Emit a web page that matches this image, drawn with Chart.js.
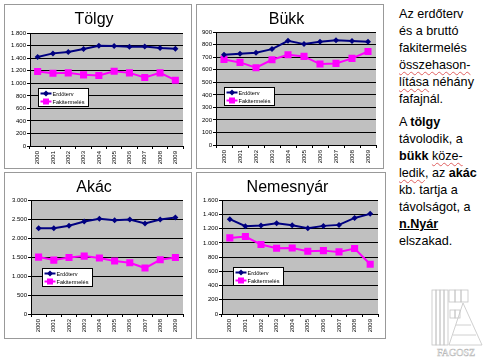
<!DOCTYPE html>
<html>
<head>
<meta charset="utf-8">
<script src="https://cdn.jsdelivr.net/npm/chart.js@4.4.0/dist/chart.umd.min.js"></script>
<style>
  body { margin: 0; width: 490px; height: 363px; background: #fff; position: relative; overflow: hidden;
         font-family: 'Liberation Sans', Arial, sans-serif; }
  .frame { position: absolute; border: 1px solid #999; background: #fff; }
  .frame canvas { display: block; }
  #note { position: absolute; left: 399px; top: 6px; font-size: 12.6px; line-height: 17px; color: #000; white-space: nowrap; }
  #note p { margin: 0; }
  #note p + p { margin-top: 6px; }
  .sp { text-decoration: underline wavy #e06060; text-decoration-thickness: 1px; text-underline-offset: 2px; }
  #logo { position: absolute; left: 425px; top: 285px; }
</style>
</head>
<body>
<div class="frame" style="left:4px;top:4px;"><canvas id="tolgyChart" width="186" height="163"></canvas></div>
<div class="frame" style="left:196px;top:4px;"><canvas id="bukkChart" width="186" height="163"></canvas></div>
<div class="frame" style="left:4px;top:172px;"><canvas id="akacChart" width="186" height="165"></canvas></div>
<div class="frame" style="left:196px;top:172px;"><canvas id="nyarChart" width="188" height="165"></canvas></div>

<div id="note">
  <p>Az erdőterv<br>és a bruttó<br>fakitermelés<br><span class="sp">összehason-</span><br><span class="sp">lítása</span> néhány<br>fafajnál.</p>
  <p>A <b>tölgy</b><br>távolodik, a<br><b>bükk</b> <span class="sp">köze-</span><br><span class="sp">ledik</span>, az <b>akác</b><br>kb. tartja a<br>távolságot, a<br><b><u>n.Nyár</u></b><br>elszakad.</p>
</div>

<svg id="logo" width="62" height="76" viewBox="0 0 62 76">
  <g fill="none" stroke="#c4c4c4" stroke-width="0.8">
    <rect x="7" y="5" width="4" height="55"/>
    <rect x="11" y="5" width="4" height="55"/>
    <rect x="15" y="5" width="4" height="55"/>
    <rect x="19" y="5" width="4" height="55"/>
    <rect x="24" y="5" width="6" height="12"/>
    <rect x="30" y="5" width="6" height="12"/>
    <rect x="36" y="5" width="7" height="12"/>
    <rect x="25" y="25" width="5" height="8"/>
    <rect x="30" y="25" width="5" height="8"/>
    <path d="M24 60 L38 18 L57 60 Z"/>
    <path d="M31 40 L46 40 M28 50 L51 50"/>
  </g>
  <text x="31" y="71" text-anchor="middle" font-family="'Liberation Serif', serif" font-size="10"
        fill="none" stroke="#b8b8b8" stroke-width="0.5">FAGOSZ</text>
</svg>

<script>
// years on the x axis
const years = ['2000', '2001', '2002', '2003', '2004', '2005', '2006', '2007', '2008', '2009'];
const seriesNames = ['Erdőterv', 'Fakitermelés'];

// Tölgy
const tolgyErdoterv = [1420, 1478, 1499, 1547, 1599, 1594, 1584, 1589, 1562, 1552];
const tolgyFakitermeles = [1188, 1161, 1167, 1135, 1124, 1193, 1167, 1093, 1167, 1050];
// Bükk
const bukkErdoterv = [720, 728, 736, 765, 831, 805, 823, 836, 829, 823];
const bukkFakitermeles = [683, 659, 617, 680, 720, 707, 646, 651, 691, 746];
// Akác
const akacErdoterv = [2263, 2263, 2325, 2439, 2509, 2474, 2491, 2386, 2491, 2544];
const akacFakitermeles = [1500, 1421, 1491, 1526, 1474, 1395, 1351, 1211, 1430, 1491];
// Nemesnyár
const nyarErdoterv = [1333, 1234, 1243, 1276, 1248, 1206, 1239, 1253, 1351, 1408];
const nyarFakitermeles = [1070, 1089, 976, 924, 929, 882, 891, 873, 920, 699];

// y axis ranges
const yMaxes = [1800, 900, 3000, 1600];
const ySteps = [200, 100, 500, 200];

const NAVY = '#000080';
const PINK = '#ff00ff';

Chart.defaults.font.family = "'Liberation Sans', Arial, sans-serif";
Chart.defaults.color = '#000';

// 1.800 style numbers
function huNumber(v) {
  return String(v).replace(/\B(?=(\d{3})+(?!\d))/g, '.');
}

// grey plot area
const plotBackground = {
  id: 'plotBackground',
  beforeDraw(chart) {
    const a = chart.chartArea;
    const ctx = chart.ctx;
    ctx.save();
    ctx.fillStyle = '#c0c0c0';
    ctx.fillRect(a.left, a.top, a.right - a.left, a.bottom - a.top);
    ctx.restore();
  }
};

// legend box inside the plot, like the excel one
const boxLegend = {
  id: 'boxLegend',
  afterDatasetsDraw(chart, args, opts) {
    const a = chart.chartArea;
    const ctx = chart.ctx;
    const x = Math.round(a.left + opts.dx) + 0.5;
    const y = Math.round(a.top + opts.dy) + 0.5;
    const w = 50, h = 18;
    ctx.save();
    ctx.fillStyle = '#fff';
    ctx.strokeStyle = '#000';
    ctx.lineWidth = 1;
    ctx.fillRect(x, y, w, h);
    ctx.strokeRect(x, y, w, h);
    chart.data.datasets.forEach((ds, i) => {
      const cy = y + 5 + i * 8;
      ctx.strokeStyle = ds.borderColor;
      ctx.lineWidth = 2;
      ctx.beginPath();
      ctx.moveTo(x + 2, cy);
      ctx.lineTo(x + 13, cy);
      ctx.stroke();
      ctx.fillStyle = ds.borderColor;
      ctx.beginPath();
      if (ds.pointStyle === 'rect') {
        ctx.rect(x + 7.5 - 3, cy - 3, 6, 6);
      } else {
        ctx.moveTo(x + 7.5, cy - 3);
        ctx.lineTo(x + 10.5, cy);
        ctx.lineTo(x + 7.5, cy + 3);
        ctx.lineTo(x + 4.5, cy);
        ctx.closePath();
      }
      ctx.fill();
      ctx.fillStyle = '#000';
      ctx.font = "5.6px 'Liberation Sans', Arial, sans-serif";
      ctx.textBaseline = 'middle';
      ctx.fillText(ds.label, x + 14, cy + 0.5);
    });
    ctx.restore();
  }
};

function makeChart(id, title, erdo, faki, n, box) {
  const ctx = document.getElementById(id).getContext('2d');
  new Chart(ctx, {
    type: 'line',
    data: {
      labels: years,
      datasets: [
        {
          label: seriesNames[0], data: erdo,
          borderColor: NAVY, backgroundColor: NAVY, borderWidth: 2,
          pointStyle: 'rectRot', pointRadius: 3, pointBorderWidth: 0,
          tension: 0
        },
        {
          label: seriesNames[1], data: faki,
          borderColor: PINK, backgroundColor: PINK, borderWidth: 2,
          pointStyle: 'rect', pointRadius: 5, pointBorderWidth: 0,
          tension: 0
        }
      ]
    },
    options: {
      responsive: false,
      animation: false,
      devicePixelRatio: 1,
      layout: { padding: { left: 0, right: box.right, top: 0, bottom: 0 } },
      plugins: {
        legend: { display: false },
        tooltip: { enabled: false },
        title: {
          display: true, text: title, color: '#000',
          font: { size: 16, weight: 'normal' },
          padding: { top: 5, bottom: box.titleGap }
        },
        boxLegend: { dx: box.dx, dy: box.dy }
      },
      scales: {
        x: {
          offset: true,
          grid: { display: true, drawOnChartArea: false, drawTicks: true, tickLength: 3, offset: true, color: '#000' },
          border: { display: true, color: '#000', width: 1 },
          ticks: { autoSkip: false, minRotation: 90, maxRotation: 90, padding: 2, font: { size: 6 }, color: '#000' },
          afterFit(scale) { scale.height = box.xh; }
        },
        y: {
          min: 0, max: yMaxes[n],
          grid: { color: '#000', lineWidth: 1, tickLength: 3 },
          border: { display: true, color: '#000', width: 1 },
          ticks: { stepSize: ySteps[n], padding: 1, font: { size: 6 }, color: '#000', callback: huNumber },
          afterFit(scale) { scale.width = box.yw; }
        }
      }
    },
    plugins: [plotBackground, boxLegend]
  });
}

makeChart('tolgyChart', 'Tölgy', tolgyErdoterv, tolgyFakitermeles, 0, { yw: 25, xh: 22, right: 8, titleGap: 4, dx: 8, dy: 55 });
makeChart('bukkChart', 'Bükk', bukkErdoterv, bukkFakitermeles, 1, { yw: 19, xh: 23, right: 7, titleGap: 3, dx: 8, dy: 55 });
makeChart('akacChart', 'Akác', akacErdoterv, akacFakitermeles, 2, { yw: 26, xh: 24, right: 8, titleGap: 3, dx: 11, dy: 68 });
makeChart('nyarChart', 'Nemesnyár', nyarErdoterv, nyarFakitermeles, 3, { yw: 25, xh: 24, right: 7, titleGap: 3, dx: 11, dy: 67 });
</script>
</body>
</html>
